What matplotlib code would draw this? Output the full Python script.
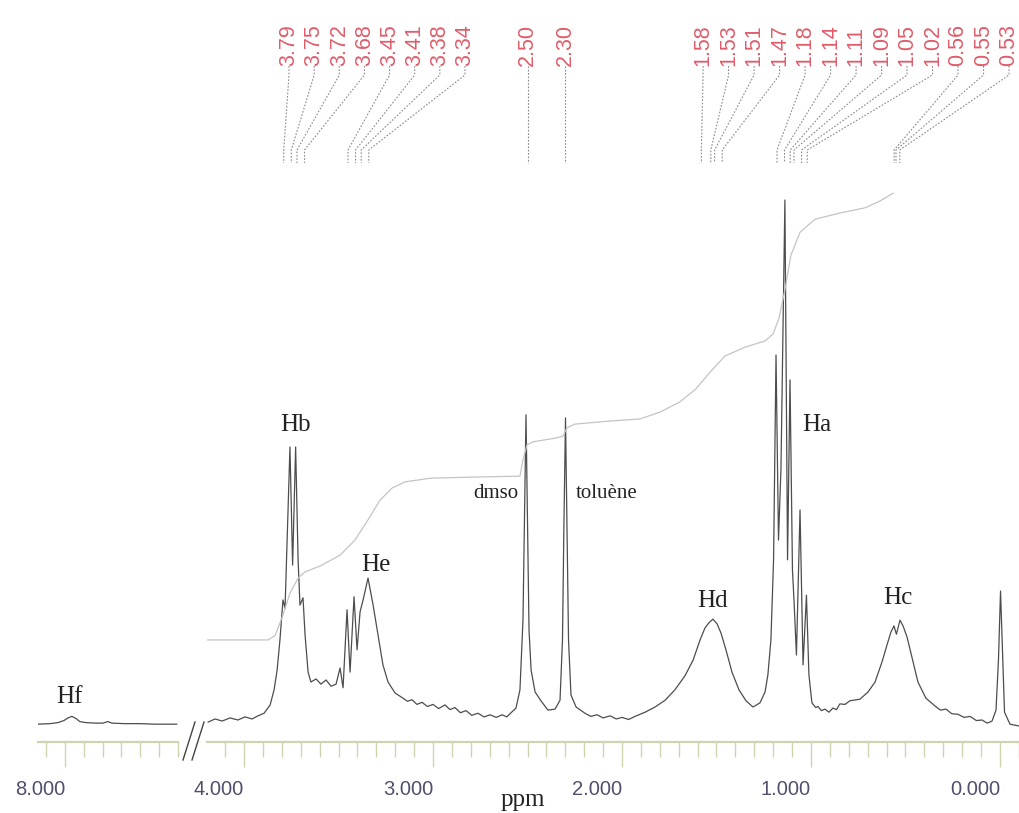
import numpy as np
import matplotlib.pyplot as plt
from matplotlib.ticker import MultipleLocator, FormatStrFormatter
from matplotlib.lines import Line2D
from matplotlib.transforms import blended_transform_factory

# spectrum trace: (chemical shift ppm, intensity % of tallest line)
trace_main = [
    (4.190, -0.4), (4.153, 0.2), (4.116, -0.2), (4.074, 0.4), (4.032, 0.0),
    (3.995, 0.6), (3.958, 0.2), (3.926, 0.8), (3.894, 1.3), (3.862, 2.9),
    (3.841, 5.8), (3.825, 9.6), (3.810, 15.4), (3.794, 23.1), (3.783, 21.5),
    (3.772, 34.6), (3.757, 52.5), (3.743, 29.8), (3.727, 52.5), (3.714, 30.8),
    (3.704, 22.1), (3.688, 23.5), (3.677, 16.3), (3.661, 9.2), (3.646, 7.3),
    (3.619, 7.9), (3.593, 6.9), (3.566, 7.7), (3.540, 6.5), (3.513, 6.9),
    (3.492, 10.0), (3.476, 6.2), (3.455, 21.2), (3.439, 9.2), (3.418, 23.7),
    (3.402, 13.5), (3.386, 20.8), (3.370, 23.1), (3.344, 27.3), (3.317, 22.1),
    (3.291, 16.3), (3.265, 10.6), (3.238, 7.3), (3.201, 5.2), (3.159, 4.2),
    (3.135, 3.6), (3.111, 3.9), (3.085, 3.0), (3.058, 3.4), (3.030, 2.6),
    (3.000, 3.0), (2.970, 2.2), (2.937, 2.9), (2.910, 2.0), (2.884, 2.4),
    (2.855, 1.4), (2.825, 1.8), (2.795, 0.9), (2.762, 1.3), (2.730, 0.6),
    (2.698, 1.0), (2.665, 0.5), (2.635, 1.0), (2.610, 0.6), (2.593, 1.2),
    (2.561, 2.3), (2.540, 5.8), (2.524, 19.2), (2.516, 38.5), (2.508, 58.7),
    (2.500, 38.5), (2.492, 17.3), (2.481, 9.6), (2.460, 5.4), (2.429, 3.7),
    (2.392, 1.9), (2.354, 2.1), (2.328, 3.8), (2.315, 15.4), (2.307, 38.5),
    (2.299, 58.1), (2.291, 36.5), (2.283, 15.4), (2.270, 4.8), (2.243, 2.5),
    (2.196, 1.3), (2.165, 0.7), (2.132, 1.0), (2.100, 0.4), (2.063, 0.8),
    (2.030, 0.2), (2.000, 0.5), (1.965, 0.1), (1.931, 0.7), (1.878, 1.5),
    (1.825, 2.5), (1.772, 3.8), (1.720, 5.8), (1.667, 8.5), (1.624, 11.5),
    (1.587, 15.4), (1.561, 17.7), (1.540, 18.7), (1.519, 19.4), (1.497, 18.5),
    (1.476, 16.7), (1.450, 13.5), (1.418, 9.2), (1.381, 5.8), (1.344, 3.7),
    (1.307, 2.5), (1.270, 3.3), (1.243, 5.4), (1.228, 8.7), (1.212, 15.4),
    (1.198, 30.8), (1.185, 70.2), (1.172, 34.6), (1.159, 48.1), (1.138, 100.0),
    (1.124, 30.8), (1.111, 65.4), (1.098, 28.8), (1.090, 23.1), (1.077, 12.5),
    (1.058, 40.4), (1.042, 10.6), (1.024, 24.0), (1.011, 8.7), (0.995, 3.3),
    (0.975, 2.4), (0.963, 2.6), (0.945, 1.8), (0.926, 2.1), (0.905, 1.5),
    (0.884, 2.3), (0.865, 2.0), (0.847, 3.1), (0.820, 3.0), (0.794, 3.7),
    (0.741, 4.0), (0.698, 5.4), (0.661, 7.3), (0.624, 11.2), (0.598, 14.4),
    (0.577, 16.9), (0.561, 18.1), (0.548, 16.5), (0.529, 19.2), (0.513, 18.1),
    (0.492, 16.0), (0.466, 12.1), (0.434, 7.3), (0.392, 4.2), (0.344, 2.7),
    (0.315, 1.9), (0.286, 2.1), (0.255, 1.2), (0.222, 1.1), (0.190, 0.5),
    (0.159, 0.7), (0.125, -0.1), (0.095, 0.0), (0.068, -0.6), (0.042, -0.2),
    (0.021, 1.9), (0.008, 11.5), (-0.003, 24.8), (-0.013, 13.5), (-0.024, 1.5),
    (-0.053, -0.8), (-0.106, -1.2),
]

# low-field window (Hf)
trace_low = [
    (8.143, -0.8), (8.079, -0.7), (8.037, -0.5), (8.005, -0.1), (7.984, 0.4),
    (7.963, 0.7), (7.942, 0.3), (7.921, -0.3), (7.889, -0.5), (7.841, -0.6),
    (7.799, -0.6), (7.772, -0.3), (7.751, -0.6), (7.683, -0.7), (7.603, -0.7),
    (7.524, -0.8), (7.444, -0.8), (7.407, -0.8),
]

# integral curve
integral = [
    (4.196, 15.4), (3.873, 15.4), (3.836, 16.2), (3.794, 20.2), (3.757, 24.4),
    (3.714, 27.3), (3.677, 28.5), (3.598, 29.6), (3.492, 31.7), (3.413, 34.6),
    (3.344, 38.5), (3.280, 42.3), (3.217, 44.6), (3.148, 45.8), (3.016, 46.5),
    (2.804, 46.7), (2.540, 46.9), (2.524, 50.0), (2.503, 52.9), (2.471, 53.5),
    (2.354, 54.2), (2.312, 54.6), (2.291, 56.2), (2.249, 56.9), (2.063, 57.5),
    (1.905, 57.9), (1.799, 59.2), (1.693, 61.2), (1.614, 63.5), (1.534, 66.9),
    (1.455, 70.0), (1.349, 71.7), (1.243, 72.9), (1.201, 74.2), (1.169, 77.3),
    (1.138, 82.7), (1.106, 89.4), (1.058, 93.8), (0.979, 96.3), (0.847, 97.5),
    (0.714, 98.5), (0.635, 99.8), (0.566, 101.3),
]

# picked peaks (top labels)
group1 = [3.79, 3.75, 3.72, 3.68, 3.45, 3.41, 3.38, 3.34]
solvent = [2.50, 2.30]
group2 = [1.58, 1.53, 1.51, 1.47, 1.18, 1.14, 1.11, 1.09, 1.05, 1.02, 0.56, 0.55, 0.53]

peak_names = ['Hf', 'Hb', 'He', 'dmso', 'toluène', 'Hd', 'Ha', 'Hc']
name_ppm = [7.974, 3.725, 3.302, 2.667, 2.079, 1.519, 0.968, 0.540]
name_int = [4.4, 56.7, 29.8, 43.5, 43.5, 22.9, 56.7, 23.5]

W, H = 1020, 813
fig = plt.figure(figsize=(W / 100, H / 100), dpi=100)
bot = 1 - 742 / H
hgt = (742 - 180) / H
axL = fig.add_axes([38 / W, bot, 140 / W, hgt])
axR = fig.add_axes([207 / W, bot, 813 / W, hgt])

axis_col = '#cfd3b0'
lab_col = '#50506e'
for ax in (axL, axR):
    for s in ('top', 'right', 'left'):
        ax.spines[s].set_visible(False)
    ax.spines['bottom'].set_color(axis_col)
    ax.spines['bottom'].set_linewidth(1.6)
    ax.set_yticks([])
    ax.set_ylim(-4.23, 103.85)
    ax.xaxis.set_major_locator(MultipleLocator(1.0))
    ax.xaxis.set_minor_locator(MultipleLocator(0.1))
    ax.xaxis.set_major_formatter(FormatStrFormatter('%.3f'))
    ax.tick_params(axis='x', which='major', length=18, width=1, color=axis_col,
                   labelsize=14.5, labelcolor=lab_col, pad=9)
    ax.tick_params(axis='x', which='minor', length=11, width=1, color=axis_col)
    ax.patch.set_alpha(0)
    for t in ax.get_xticklabels():
        t.set_fontfamily('Liberation Sans')
        t.set_horizontalalignment('right')

axL.set_xlim(8.143, 7.40)
axR.set_xlim(4.196, -0.106)

spec_col = '#4d4d4d'
x, y = zip(*trace_low)
axL.plot(x, y, color=spec_col, lw=0.9)
x, y = zip(*trace_main)
axR.plot(x, y, color=spec_col, lw=0.9)
x, y = zip(*integral)
axR.plot(x, y, color='#c4c4c4', lw=0.9)

# peak names
axL.text(name_ppm[0], name_int[0], peak_names[0], ha='center', va='center',
         fontsize=18, family='Liberation Serif', color='#222222')
for n, px, py in zip(peak_names[1:], name_ppm[1:], name_int[1:]):
    fs = 15 if n in ('dmso', 'toluène') else 18
    axR.text(px, py, n, ha='center', va='center', fontsize=fs,
             family='Liberation Serif', color='#222222')

fig.text(523 / W, 1 - 800 / H, 'ppm', ha='center', va='center', fontsize=18,
         family='Liberation Serif', color='#222222')

# axis break marks
for x0 in (183, 192):
    fig.add_artist(Line2D([x0 / W, (x0 + 12) / W], [1 - 760 / H, 1 - 722 / H],
                          color='#444444', lw=1.0))

# peak pick labels with leader lines
tr = blended_transform_factory(axR.transData, fig.transFigure)
lab_x = list(np.linspace(3.762, 2.831, len(group1))) + solvent + \
    list(np.linspace(1.571, -0.048, len(group2)))
peaks = group1 + solvent + group2
y_lab = 1 - 66 / H
for lx, p in zip(lab_x, peaks):
    ys = [y_lab, 1 - 75 / H, 1 - 150 / H, 1 - 163 / H]
    xs = [lx, lx, p, p]
    axR.plot(xs, ys, transform=tr, clip_on=False, color='#8a8a8a', lw=0.8,
             ls=(0, (1.5, 1.5)))
    axR.text(lx, y_lab, '%.2f' % p, transform=tr, rotation=90, ha='center',
             va='bottom', fontsize=15.5, family='Liberation Sans', color='#e05c6a')

fig.savefig('out.png', dpi=100)
